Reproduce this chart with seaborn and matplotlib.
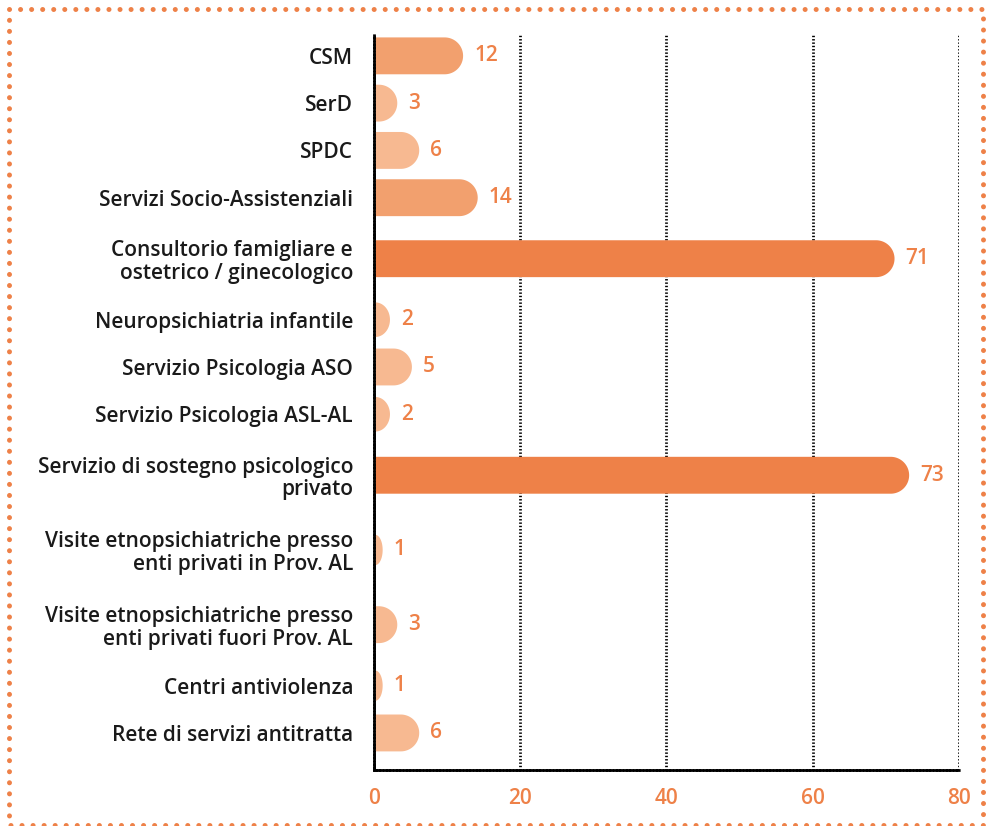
import numpy as np
import pandas as pd
import matplotlib
matplotlib.use("Agg")
import matplotlib.pyplot as plt
import seaborn as sns
from matplotlib.path import Path
from matplotlib.patches import PathPatch
from matplotlib.lines import Line2D

# Data
servizi = ["CSM", "SerD", "SPDC", "Servizi Socio-Assistenziali",
           "Consultorio famigliare e\nostetrico / ginecologico",
           "Neuropsichiatria infantile", "Servizio Psicologia ASO",
           "Servizio Psicologia ASL-AL",
           "Servizio di sostegno psicologico\nprivato",
           "Visite etnopsichiatriche presso\nenti privati in Prov. AL",
           "Visite etnopsichiatriche presso\nenti privati fuori Prov. AL",
           "Centri antiviolenza", "Rete di servizi antitratta"]
valori = [12, 3, 6, 14, 71, 2, 5, 2, 73, 1, 3, 1, 6]
x_ticks = [0, 20, 40, 60, 80]

ORANGE = "#EE8148"
palette = {"alto": "#EE8148", "medio": "#F2A06E", "basso": "#F7B991"}


def livello(v):
    if v >= 50:
        return "alto"
    if v >= 10:
        return "medio"
    return "basso"


# two-line labels get taller rows
altezze = np.array([1.58 if "\n" in s else 1.0 for s in servizi])
pos = np.cumsum(altezze) - altezze / 2

df = pd.DataFrame({"servizio": servizi, "valore": valori, "pos": pos,
                   "livello": [livello(v) for v in valori]})

sns.set_style("white")
plt.rcParams["font.family"] = ["Open Sans", "DejaVu Sans"]

fig = plt.figure(figsize=(9.89, 8.26), dpi=100)
ax = fig.add_axes([0.378, 0.068, 0.5915, 0.8898])
sns.barplot(data=df, x="valore", y="pos", hue="livello", palette=palette,
            orient="y", native_scale=True, dodge=False, legend=False,
            width=0.78, saturation=1, ax=ax)

ax.set_xlim(0, 80)
ax.set_ylim(altezze.sum() + 0.28, 0.056)

# rounded right end for every bar (built in pixel space)
to_px = ax.transData
to_data = ax.transData.inverted()
for bar in list(ax.patches):
    x0, y0 = bar.get_x(), bar.get_y()
    w, h = bar.get_width(), bar.get_height()
    color = bar.get_facecolor()
    bar.remove()
    (ax0, ay0), (ax1, ay1) = to_px.transform([(x0, y0), (x0 + w, y0 + h)])
    left, right = ax0 + 1.5, ax1 + 1.5
    bottom, top = min(ay0, ay1), max(ay0, ay1)
    r = (top - bottom) / 2
    cy = (top + bottom) / 2
    rx = min(right - left, r)
    ry = r * min(1.0, 0.7 + 0.3 * rx / r)
    t = np.linspace(-np.pi / 2, np.pi / 2, 60)
    cap = np.column_stack([right - rx + rx * np.cos(t), cy + ry * np.sin(t)])
    verts = np.vstack([[left, cy - ry], cap, [left, cy + ry], [left, cy - ry]])
    verts = to_data.transform(verts)
    ax.add_patch(PathPatch(Path(verts, closed=True), facecolor=color,
                           edgecolor="none", lw=0, zorder=2))

# value labels
for v, p in zip(valori, pos):
    ax.annotate(str(v), xy=(v, p), xytext=(9, 0), textcoords="offset points",
                ha="left", va="center", color=ORANGE, fontsize=15,
                fontweight="semibold")

ax.set_yticks(pos)
ax.set_yticklabels(servizi, fontsize=15, fontweight="semibold",
                   color="#1A1A1A", linespacing=1.1)
ax.set_xticks(x_ticks)
ax.set_xticklabels([str(t) for t in x_ticks], fontsize=15,
                   fontweight="semibold", color=ORANGE)
ax.tick_params(axis="y", length=0, pad=15)
ax.tick_params(axis="x", length=0, pad=13)
ax.set_xlabel("")
ax.set_ylabel("")

dotted = (0, (0.5, 0.7))
ax.xaxis.grid(True, color="black", linestyle=dotted, linewidth=2)
ax.yaxis.grid(False)
ax.set_axisbelow(True)
for s in ["top", "right"]:
    ax.spines[s].set_visible(False)
for s in ["left", "bottom"]:
    ax.spines[s].set_visible(True)
    ax.spines[s].set_color("black")
    ax.spines[s].set_linewidth(2)
    ax.spines[s].set_linestyle(dotted)

# orange dotted frame
fx = [0.0088, 0.9939, 0.9939, 0.0088, 0.0088]
fy = [0.9895, 0.9895, 0.0012, 0.0012, 0.9895]
fig.add_artist(Line2D(fx, fy, transform=fig.transFigure, color=ORANGE,
                      linewidth=3.6, linestyle=(0, (0.01, 2.2)),
                      dash_capstyle="round"))

fig.savefig("out.png", dpi=100)
